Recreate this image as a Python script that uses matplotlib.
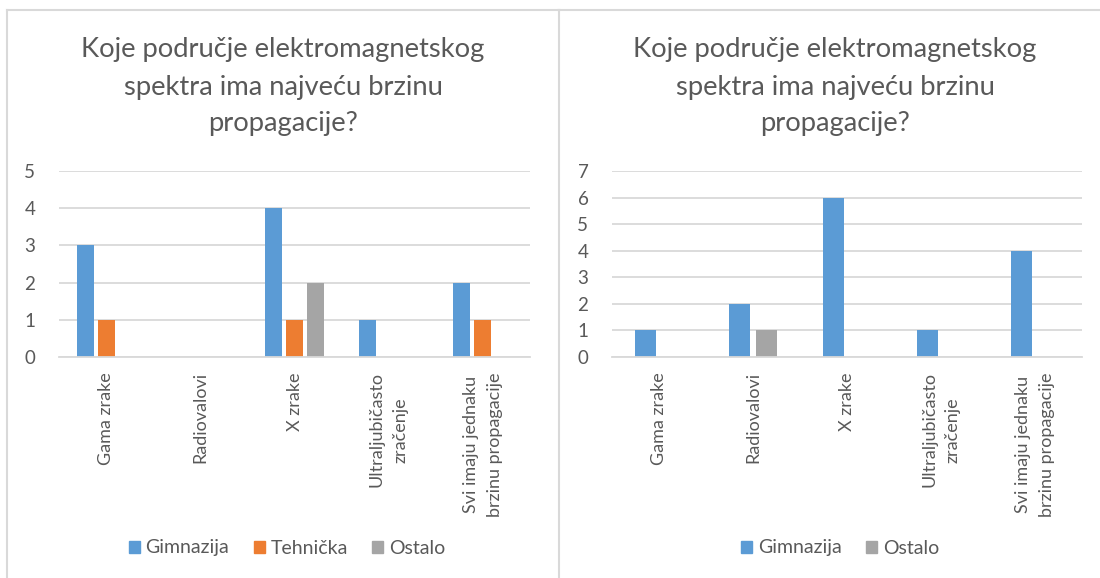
import matplotlib
matplotlib.use("Agg")
import matplotlib.pyplot as plt
from matplotlib.patches import Patch
from matplotlib.lines import Line2D
import numpy as np

plt.rcParams['font.family'] = ['Lato', 'DejaVu Sans']

categories = ["Gama zrake", "Radiovalovi", "X zrake",
              "Ultraljubičasto\nzračenje", "Svi imaju jednaku\nbrzinu propagacije"]
left_gimnazija = [3, 0, 4, 1, 2]
left_tehnicka = [1, 0, 1, 0, 1]
left_ostalo = [0, 0, 2, 0, 0]
right_gimnazija = [1, 2, 6, 1, 4]
right_ostalo = [0, 1, 0, 0, 0]
title = "Koje područje elektromagnetskog\nspektra ima najveću brzinu\npropagacije?"

BLUE = "#5B9BD5"
ORANGE = "#ED7D31"
GRAY = "#A5A5A5"
TXT = "#595959"
GRID = "#D9D9D9"

W, H = 1100, 578
fig = plt.figure(figsize=(W / 100, H / 100), dpi=100)
fig.patch.set_facecolor("white")


def px_axes(x0, x1, ytop, ybot):
    return fig.add_axes([x0 / W, 1 - ybot / H, (x1 - x0) / W, (ybot - ytop) / H])


def style(ax, ymax):
    ax.set_xlim(-0.5, len(categories) - 0.5)
    ax.set_ylim(0, ymax)
    ax.set_yticks(range(ymax + 1))
    ax.yaxis.grid(True, color=GRID, linewidth=1.3)
    ax.set_axisbelow(True)
    for s in ["top", "right", "left"]:
        ax.spines[s].set_visible(False)
    ax.spines["bottom"].set_color(GRID)
    ax.spines["bottom"].set_linewidth(1.3)
    ax.tick_params(axis="both", length=0, colors=TXT, labelsize=13.5)
    ax.tick_params(axis="y", pad=17)
    ax.tick_params(axis="x", pad=11)
    ax.set_xticks(range(len(categories)))
    ax.set_xticklabels(categories, rotation=90, va="top", ha="center",
                       multialignment="center", fontsize=13, color=TXT,
                       linespacing=1.57)


x = np.arange(len(categories))

# Left chart
axL = px_axes(59, 530, 171, 357)
bw = 0.18
off = 0.223
axL.bar(x - off, left_gimnazija, bw, color=BLUE, linewidth=0)
axL.bar(x, left_tehnicka, bw, color=ORANGE, linewidth=0)
axL.bar(x + off, left_ostalo, bw, color=GRAY, linewidth=0)
style(axL, 5)

# Right chart
axR = px_axes(612, 1082, 171, 357)
bw2 = 0.223
off2 = 0.141
axR.bar(x - off2, right_gimnazija, bw2, color=BLUE, linewidth=0)
axR.bar(x + off2, right_ostalo, bw2, color=GRAY, linewidth=0)
style(axR, 7)

# Titles
for cx in (283, 835):
    fig.text(cx / W, 1 - 87 / H, title, ha="center", va="center",
             fontsize=19.7, color=TXT, linespacing=1.6)

# Legends
hL = [Patch(color=BLUE, label="Gimnazija"), Patch(color=ORANGE, label="Tehnička"),
      Patch(color=GRAY, label="Ostalo")]
hR = [Patch(color=BLUE, label="Gimnazija"), Patch(color=GRAY, label="Ostalo")]
for handles, cx in ((hL, 287), (hR, 840)):
    fig.legend(handles=handles, loc="center", bbox_to_anchor=(cx / W, 1 - 548 / H),
               ncol=len(handles), frameon=False, fontsize=14, labelcolor=TXT,
               handlelength=0.57, handleheight=0.57, handletextpad=0.3,
               columnspacing=1.25, borderaxespad=0, borderpad=0)

# Panel borders
bc = "#D9D9D9"
lines = [
    ((7, 7), (10, 578)),
    ((7, 559), (10, 10)),
    ((559, 559), (10, 578)),
    ((559, 1100), (10, 10)),
]
for xs, ys in lines:
    fig.add_artist(Line2D([v / W for v in xs], [1 - v / H for v in ys],
                          color=bc, linewidth=1.5, transform=fig.transFigure))

fig.savefig("out.png", dpi=100, facecolor="white")
